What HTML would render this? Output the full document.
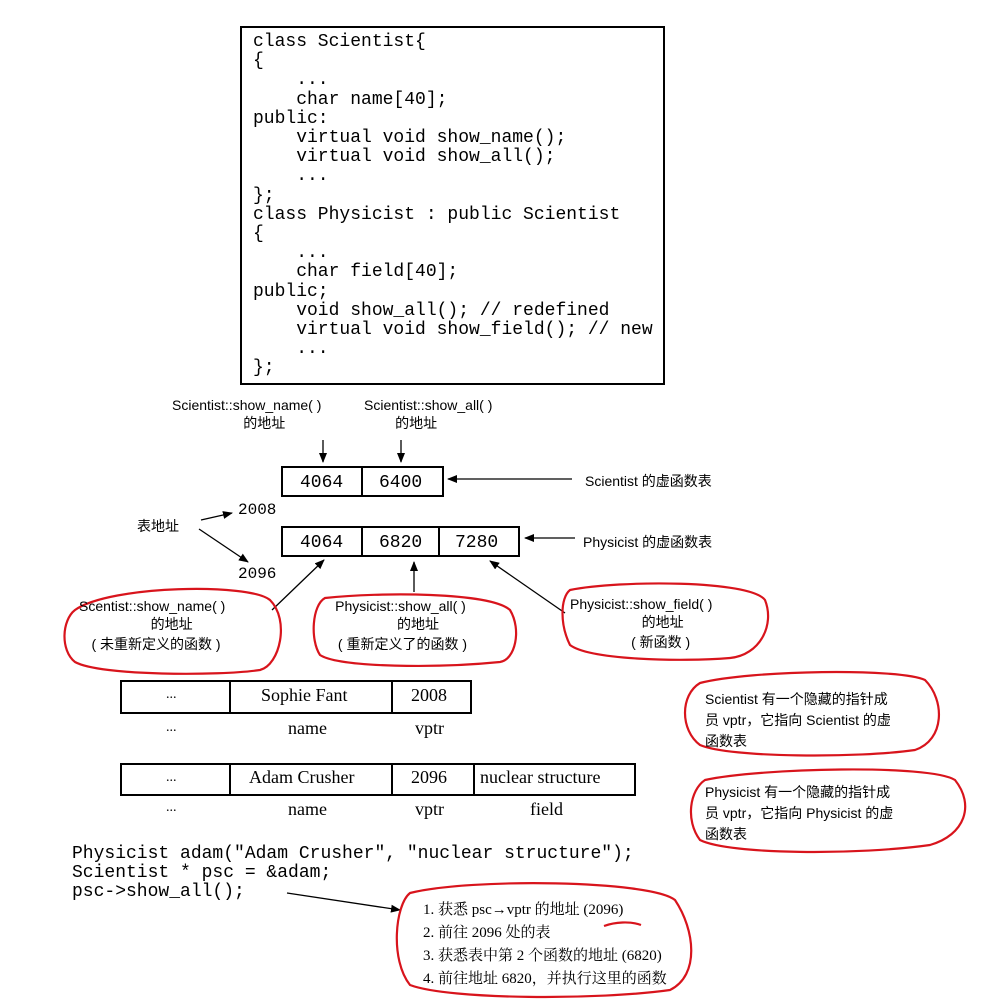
<!DOCTYPE html>
<html><head><meta charset="utf-8"><style>
body{margin:0;width:985px;height:1005px;background:#fff;position:relative;overflow:hidden;font-family:"Liberation Sans","Noto Sans CJK SC",sans-serif;}
.t{position:absolute;white-space:pre;}
.m{font-family:"Liberation Mono",monospace;font-size:18px;line-height:19.2px;}
.s{font-size:14px;}
.r{font-family:"Liberation Serif","Noto Serif CJK SC",serif;font-size:18px;}
</style></head><body>
<svg width="985" height="1005" style="position:absolute;left:0;top:0" fill="none">
<defs><marker id="a" markerWidth="10" markerHeight="8" refX="9" refY="4" orient="auto" markerUnits="userSpaceOnUse"><path d="M0,0L10,4L0,8z" fill="#000"/></marker></defs>
<rect x="241" y="27" width="423" height="357" stroke="#000" stroke-width="2"/>
<g stroke="#000" stroke-width="2">
<rect x="282" y="467" width="161" height="29"/><line x1="362" y1="467" x2="362" y2="496"/>
<rect x="282" y="527" width="237" height="29"/><line x1="362" y1="527" x2="362" y2="556"/><line x1="439" y1="527" x2="439" y2="556"/>
<rect x="121" y="681" width="350" height="32"/><line x1="230" y1="681" x2="230" y2="713"/><line x1="392" y1="681" x2="392" y2="713"/>
<rect x="121" y="764" width="514" height="31"/><line x1="230" y1="764" x2="230" y2="795"/><line x1="392" y1="764" x2="392" y2="795"/><line x1="474" y1="764" x2="474" y2="795"/>
</g>
<g stroke="#000" stroke-width="1.3" marker-end="url(#a)">
<line x1="323" y1="440" x2="323" y2="462"/>
<line x1="401" y1="440" x2="401" y2="462"/>
<line x1="572" y1="479" x2="448" y2="479"/>
<line x1="575" y1="538" x2="525" y2="538"/>
<line x1="201" y1="520" x2="232" y2="513"/>
<line x1="199" y1="529" x2="248" y2="562"/>
<line x1="272" y1="610" x2="324" y2="560"/>
<line x1="414" y1="592" x2="414" y2="562"/>
<line x1="565" y1="613" x2="490" y2="561"/>
<line x1="287" y1="893" x2="400" y2="910"/>
</g>
<g stroke="#d8141c" stroke-width="2.2">
<path d="M75,610 C110,585 250,583 270,600 C290,620 280,665 260,670 C220,676 100,676 75,662 C60,650 62,620 75,610Z"/>
<path d="M325,598 C380,592 490,592 510,610 C522,630 515,660 500,662 C440,668 340,668 320,655 C310,640 312,605 325,598Z"/>
<path d="M570,590 C620,580 750,580 765,600 C775,625 760,655 730,658 C680,662 590,660 570,645 C560,625 560,598 570,590Z"/>
<path d="M700,683 C750,670 900,668 925,680 C945,700 945,740 915,750 C860,758 730,758 700,745 C680,730 680,695 700,683Z"/>
<path d="M705,780 C760,768 930,764 955,780 C975,805 965,835 930,845 C860,855 730,855 700,840 C685,820 690,790 705,780Z"/>
<path d="M410,893 C470,878 650,880 675,900 C695,930 700,975 670,990 C600,1000 450,1000 410,985 C390,960 395,905 410,893Z"/>
<path d="M604,926 C615,922 630,921 641,925"/>
</g>
</svg>
<div class="t m" style="left:253px;top:33px">class Scientist{
{
    ...
    char name[40];
public:
    virtual void show_name();
    virtual void show_all();
    ...
};
class Physicist : public Scientist
{
    ...
    char field[40];
public;
    void show_all(); // redefined
    virtual void show_field(); // new
    ...
};</div>
<div class="t s" style="left:172px;top:397px;text-align:center">Scientist::show_name( )
         的地址</div>
<div class="t s" style="left:364px;top:397px">Scientist::show_all( )
        的地址</div>
<div class="t m" style="left:300px;top:474px">4064</div>
<div class="t m" style="left:379px;top:474px">6400</div>
<div class="t m" style="left:300px;top:534px">4064</div>
<div class="t m" style="left:379px;top:534px">6820</div>
<div class="t m" style="left:455px;top:534px">7280</div>
<div class="t s" style="left:585px;top:471px">Scientist 的虚函数表</div>
<div class="t s" style="left:583px;top:532px">Physicist 的虚函数表</div>
<div class="t s" style="left:137px;top:516px">表地址</div>
<div class="t m" style="left:238px;top:501px;font-size:16px">2008</div>
<div class="t m" style="left:238px;top:565px;font-size:16px">2096</div>
<div class="t s" style="left:79px;top:598px;text-align:center">Scentist::show_name( )
          的地址
  ( 未重新定义的函数 )</div>
<div class="t s" style="left:334px;top:598px;text-align:center">Physicist::show_all( )
         的地址
 ( 重新定义了的函数 )</div>
<div class="t s" style="left:570px;top:596px;text-align:center">Physicist::show_field( )
           的地址
          ( 新函数 )</div>
<div class="t r" style="left:166px;top:687px;font-size:14px">...</div>
<div class="t r" style="left:261px;top:685px">Sophie Fant</div>
<div class="t r" style="left:411px;top:685px">2008</div>
<div class="t r" style="left:166px;top:720px;font-size:14px">...</div>
<div class="t r" style="left:288px;top:718px">name</div>
<div class="t r" style="left:415px;top:718px">vptr</div>
<div class="t r" style="left:166px;top:770px;font-size:14px">...</div>
<div class="t r" style="left:249px;top:767px">Adam Crusher</div>
<div class="t r" style="left:411px;top:767px">2096</div>
<div class="t r" style="left:480px;top:767px">nuclear structure</div>
<div class="t r" style="left:166px;top:800px;font-size:14px">...</div>
<div class="t r" style="left:288px;top:799px">name</div>
<div class="t r" style="left:415px;top:799px">vptr</div>
<div class="t r" style="left:530px;top:799px">field</div>
<div class="t s" style="left:705px;top:689px;line-height:21px">Scientist 有一个隐藏的指针成
员 vptr，它指向 Scientist 的虚
函数表</div>
<div class="t s" style="left:705px;top:782px;line-height:21px">Physicist 有一个隐藏的指针成
员 vptr，它指向 Physicist 的虚
函数表</div>
<div class="t m" style="left:72px;top:845px">Physicist adam("Adam Crusher", "nuclear structure");
Scientist * psc = &amp;adam;
psc-&gt;show_all();</div>
<div class="t r" style="left:423px;top:899px;font-size:15px;line-height:23px">1. 获悉 psc→vptr 的地址 (2096)
2. 前往 2096 处的表
3. 获悉表中第 2 个函数的地址 (6820)
4. 前往地址 6820，并执行这里的函数</div>
</body></html>
